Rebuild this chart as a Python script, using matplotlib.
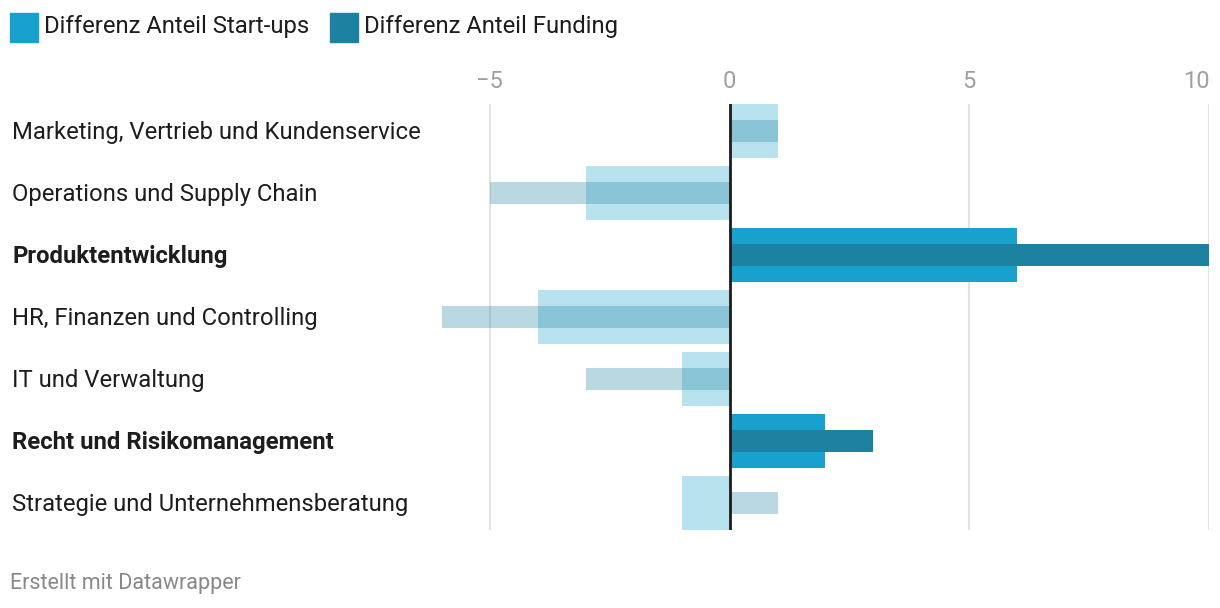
import matplotlib
matplotlib.use("Agg")
import matplotlib.pyplot as plt
from matplotlib.colors import to_rgba
from matplotlib.patches import Rectangle

plt.rcParams['font.family'] = ['Roboto', 'DejaVu Sans']

categories = ["Marketing, Vertrieb und Kundenservice",
              "Operations und Supply Chain",
              "Produktentwicklung",
              "HR, Finanzen und Controlling",
              "IT und Verwaltung",
              "Recht und Risikomanagement",
              "Strategie und Unternehmensberatung"]
startups = [1, -3, 6, -4, -1, 2, -1]
funding = [1, -5, 10, -6, -3, 3, 1]
highlight = [False, False, True, False, False, True, False]
xticks = [-5, 0, 5, 10]
xticklabels = ["\u22125", "0", "5", "10"]

c_start = "#18a1cd"
c_fund = "#1d81a2"

W, H = 1220, 608
fig = plt.figure(figsize=(W / 100, H / 100), dpi=100)

# axes placed in pixel coords
x0, x1, ytop, ybot = 442, 1209, 104, 530
ax = fig.add_axes([x0 / W, 1 - ybot / H, (x1 - x0) / W, (ybot - ytop) / H])

ypos = list(range(len(categories)))
for i in ypos:
    a = 1.0 if highlight[i] else 0.3
    ax.barh(i, startups[i], height=0.87, color=to_rgba(c_start, a), linewidth=0, zorder=2)
    ax.barh(i, funding[i], height=0.355, color=to_rgba(c_fund, a), linewidth=0, zorder=3)

ax.set_xlim(-6, 10)
ax.set_ylim(len(categories) - 0.565, -0.435)
for t in xticks:
    ax.axvline(t, color="#e3e3e3", lw=1.5, zorder=1)
ax.axvline(0, color="#1d1d1d", lw=2, zorder=4)

for s in ax.spines.values():
    s.set_visible(False)
ax.set_yticks([])
ax.set_xticks([])

# top tick labels
for t, lab in zip(xticks, xticklabels):
    ha = "right" if t == 10 else "center"
    fig.text((729 + 48 * t + (1 if t == 10 else 0)) / W, 1 - 82 / H, lab,
             ha=ha, va="center", fontsize=17, color="#a0a0a0")

# category labels
for i, c in enumerate(categories):
    fig.text(12 / W, 1 - (133 + 62 * i) / H, c, ha="left", va="center",
             fontsize=17.2, color="#1d1d1d",
             fontweight="bold" if highlight[i] else "normal")

# legend
legend_items = [("Differenz Anteil Start-ups", c_start, 10),
                ("Differenz Anteil Funding", c_fund, 330)]
for lab, col, lx in legend_items:
    fig.patches.append(Rectangle((lx / W, 1 - 42 / H), 28 / W, 29 / H,
                                 transform=fig.transFigure, color=col))
    fig.text((lx + 34) / W, 1 - 27 / H, lab, ha="left", va="center",
             fontsize=17.2, color="#1d1d1d")

fig.text(10 / W, 1 - 583 / H, "Erstellt mit Datawrapper", ha="left", va="center",
         fontsize=15.5, color="#888888")

fig.savefig("out.png", dpi=100, facecolor="white")
